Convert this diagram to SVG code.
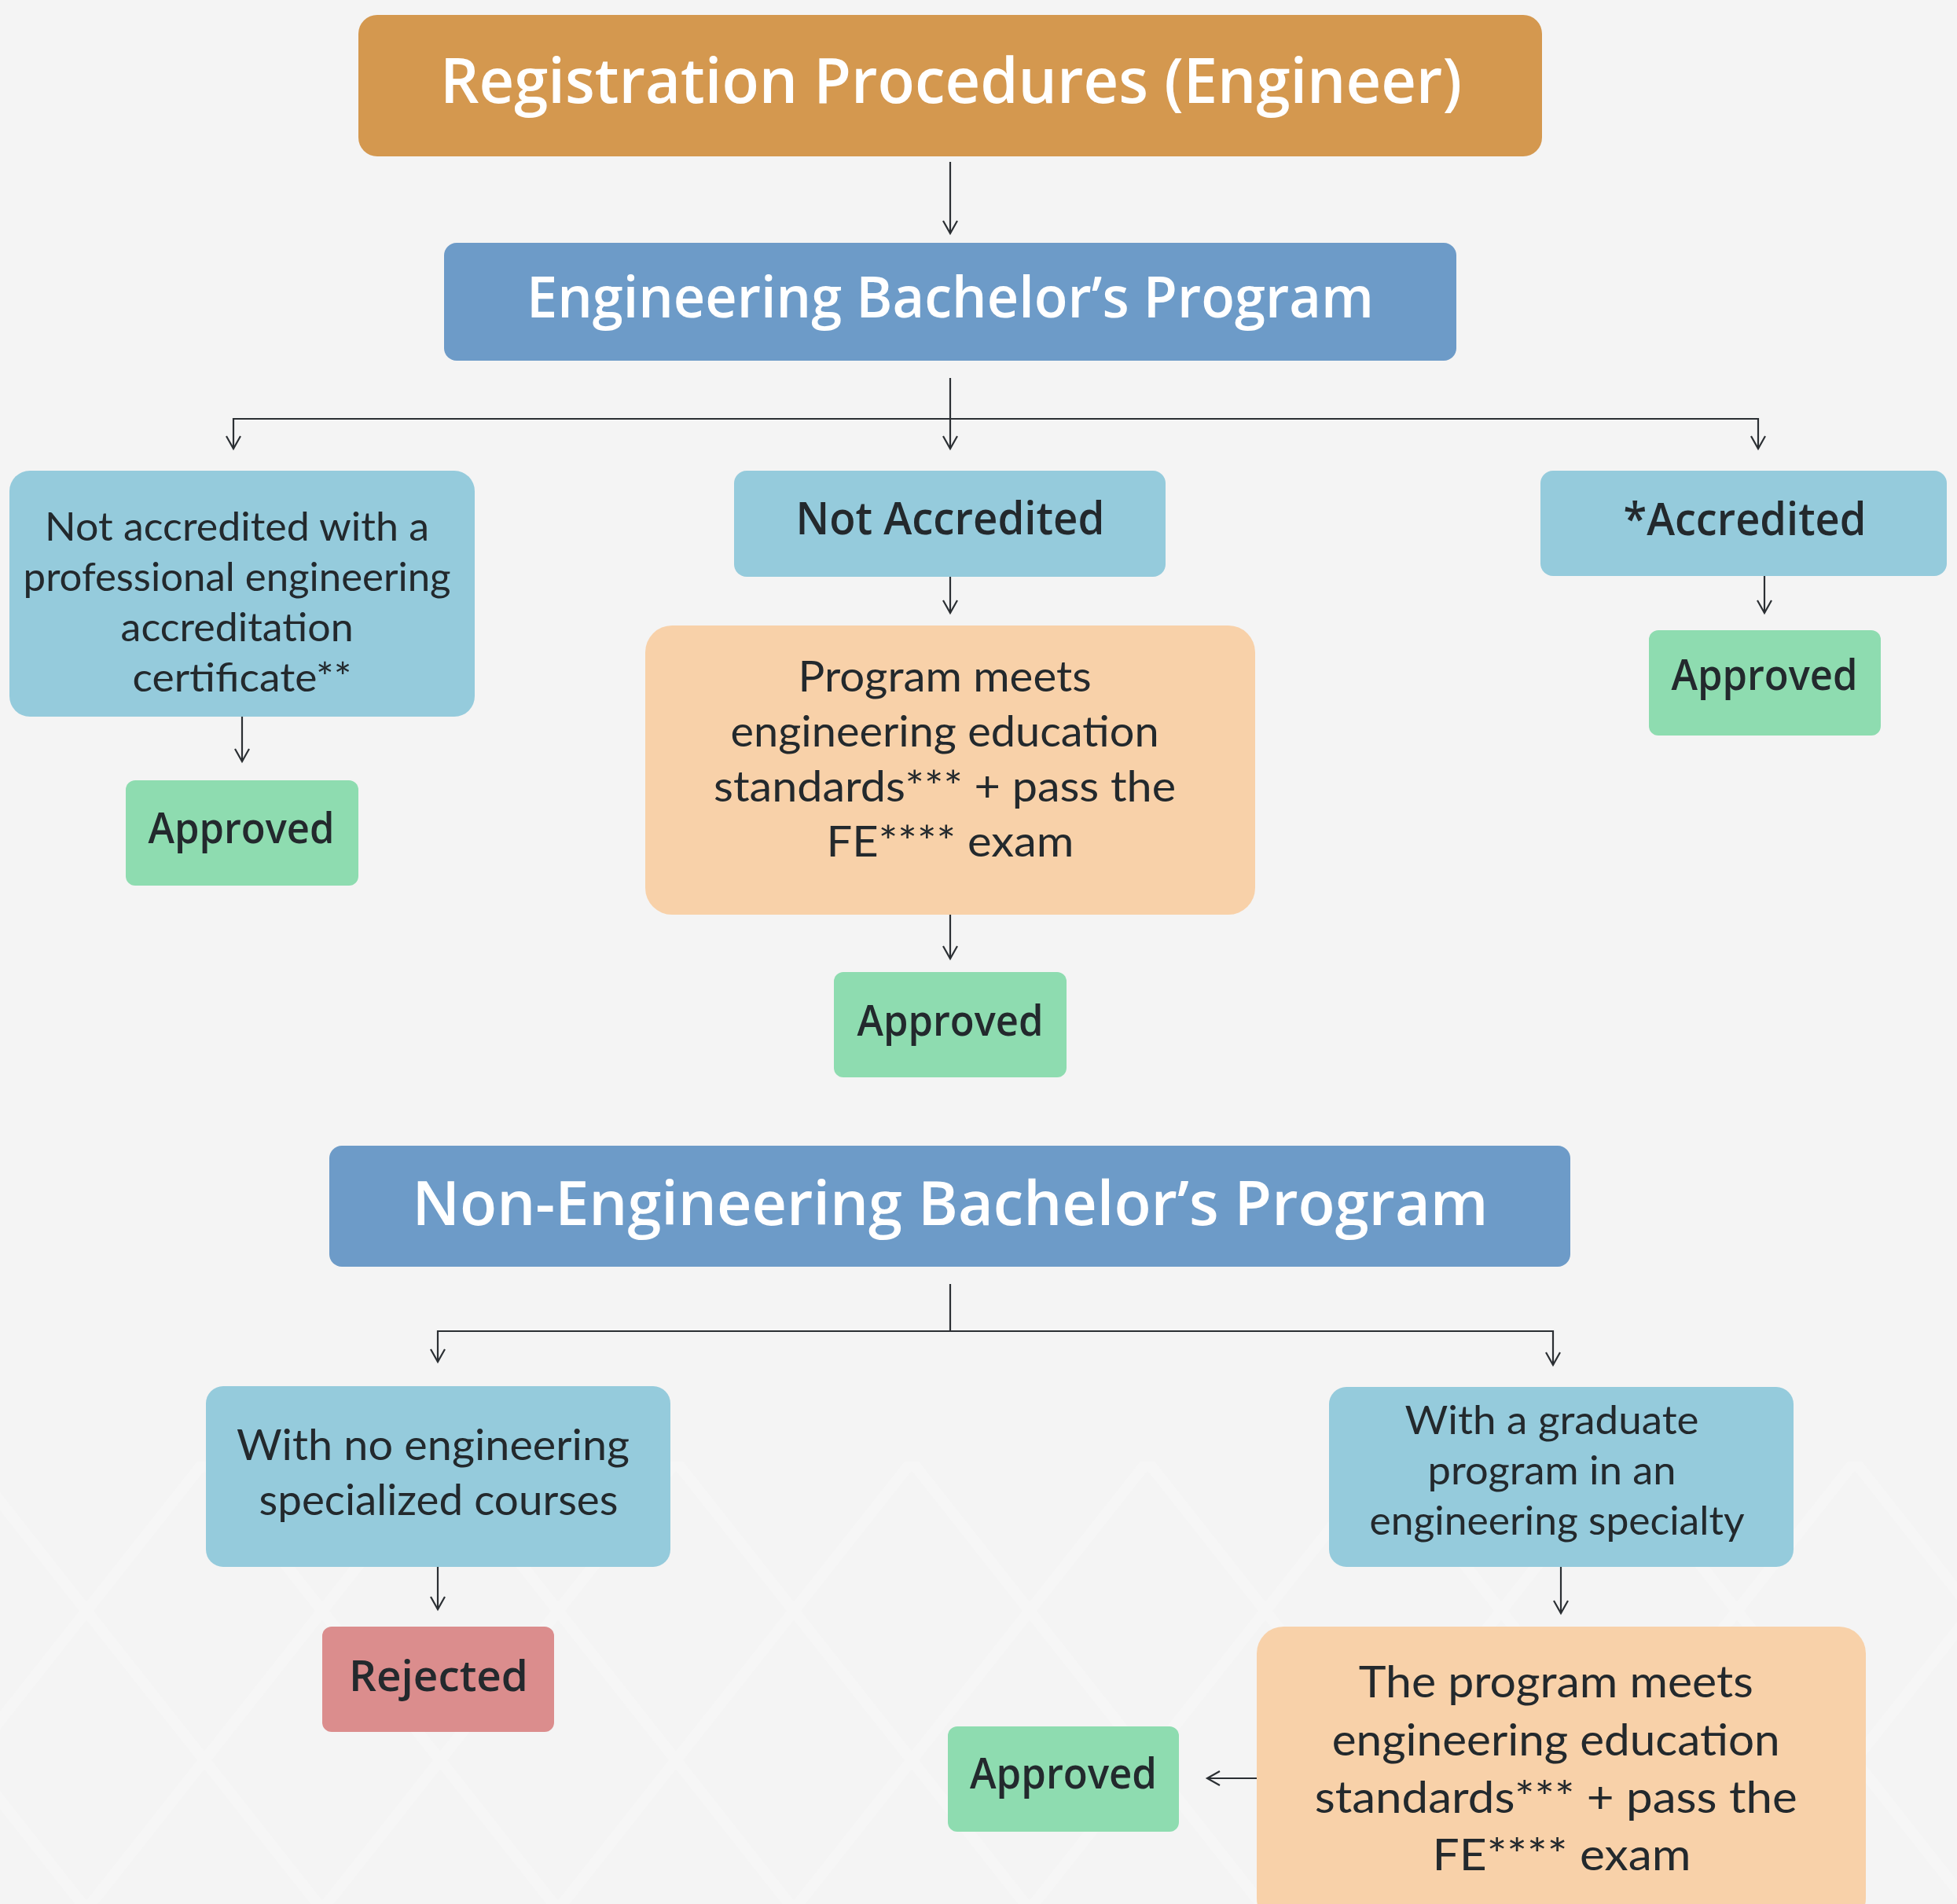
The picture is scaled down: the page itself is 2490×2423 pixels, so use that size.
<svg xmlns="http://www.w3.org/2000/svg" width="2490" height="2423" viewBox="0 0 2490 2423">
<defs>
<style>
.hdr{font-family:"Open Sans","Noto Sans",sans-serif;font-weight:600;fill:#ffffff;text-anchor:middle}
.lbl{font-family:"Open Sans","Noto Sans",sans-serif;font-weight:600;fill:#23292d;text-anchor:middle}
.body{font-family:Lato,"Noto Sans",sans-serif;font-weight:400;fill:#23292d;text-anchor:middle}
.conn{fill:none;stroke:#2b2f33;stroke-width:2.2}
.light{fill:#95cbdc}
.peach{fill:#f8d1a9}
.green{fill:#8edcb0}
.red{fill:#db8d8d}
.steel{fill:#6d9bc8}
</style>
<marker id="arr" markerUnits="userSpaceOnUse" markerWidth="40" markerHeight="40" refX="0" refY="0" orient="auto" overflow="visible" viewBox="-20 -20 40 40">
<path d="M-16,-9 L0,0 L-16,9" fill="none" stroke="#2b2f33" stroke-width="2.2"/>
</marker>
<pattern id="lat" width="300" height="380" patternUnits="userSpaceOnUse" x="-40" y="1860">
<path d="M0,0 L150,190 L0,380 M300,0 L150,190 L300,380" fill="none" stroke="#f9f9f9" stroke-width="14"/>
</pattern>
</defs>
<rect x="0" y="0" width="2490" height="2423" fill="#f4f4f4"/>
<rect x="0" y="1860" width="2490" height="563" fill="url(#lat)" opacity="0.45"/>

<g id="connectors">
<line class="conn" x1="1209" y1="206" x2="1209" y2="297" marker-end="url(#arr)"/>
<line class="conn" x1="1209" y1="481" x2="1209" y2="571" marker-end="url(#arr)"/>
<line class="conn" x1="297" y1="533" x2="2237" y2="533"/>
<line class="conn" x1="297" y1="532" x2="297" y2="571" marker-end="url(#arr)"/>
<line class="conn" x1="2237" y1="532" x2="2237" y2="571" marker-end="url(#arr)"/>
<line class="conn" x1="308" y1="912" x2="308" y2="969" marker-end="url(#arr)"/>
<line class="conn" x1="1209" y1="734" x2="1209" y2="780" marker-end="url(#arr)"/>
<line class="conn" x1="1209" y1="1164" x2="1209" y2="1220" marker-end="url(#arr)"/>
<line class="conn" x1="2245" y1="733" x2="2245" y2="780" marker-end="url(#arr)"/>
<line class="conn" x1="1209" y1="1634" x2="1209" y2="1694"/>
<line class="conn" x1="557" y1="1694" x2="1976" y2="1694" stroke-width="3"/>
<line class="conn" x1="557" y1="1693" x2="557" y2="1733" marker-end="url(#arr)"/>
<line class="conn" x1="1976" y1="1693" x2="1976" y2="1737" marker-end="url(#arr)"/>
<line class="conn" x1="557" y1="1994" x2="557" y2="2048" marker-end="url(#arr)"/>
<line class="conn" x1="1986" y1="1994" x2="1986" y2="2053" marker-end="url(#arr)"/>
<line class="conn" x1="1599" y1="2263" x2="1536" y2="2263" marker-end="url(#arr)"/>
</g>

<g id="title">
<rect x="456" y="19" width="1506" height="180" rx="24" fill="#d4984f"/>
<text class="hdr" x="1210" y="131" font-size="80" textLength="1300" lengthAdjust="spacingAndGlyphs">Registration Procedures (Engineer)</text>
</g>

<g id="eng-bachelor">
<rect class="steel" x="565" y="309" width="1288" height="150" rx="16"/>
<text class="hdr" x="1209" y="404" font-size="72" textLength="1078" lengthAdjust="spacingAndGlyphs">Engineering Bachelor’s Program</text>
</g>

<g id="not-accredited-cert">
<rect class="light" x="12" y="599" width="592" height="313" rx="26"/>
<text class="body" font-size="50">
<tspan x="308" y="688" textLength="489" lengthAdjust="spacingAndGlyphs">Not accredited with a</tspan>
<tspan x="308" y="752" textLength="544" lengthAdjust="spacingAndGlyphs">professional engineering</tspan>
<tspan x="308" y="816" textLength="296" lengthAdjust="spacingAndGlyphs">accreditation</tspan>
<tspan x="308" y="880" textLength="279" lengthAdjust="spacingAndGlyphs">certificate**</tspan>
</text>
</g>

<g id="approved-1">
<rect class="green" x="160" y="993" width="296" height="134" rx="12"/>
<text class="lbl" x="307" y="1073" font-size="54" textLength="237" lengthAdjust="spacingAndGlyphs">Approved</text>
</g>

<g id="not-accredited">
<rect class="light" x="934" y="599" width="549" height="135" rx="16"/>
<text class="lbl" x="1209" y="680" font-size="58" textLength="393" lengthAdjust="spacingAndGlyphs">Not Accredited</text>
</g>

<g id="meets-standards-1">
<rect class="peach" x="821" y="796" width="776" height="368" rx="34"/>
<text class="body" font-size="54">
<tspan x="1209" y="880" textLength="373" lengthAdjust="spacingAndGlyphs">Program meets</tspan>
<tspan x="1209" y="950" textLength="545" lengthAdjust="spacingAndGlyphs">engineering education</tspan>
<tspan x="1209" y="1020" textLength="588" lengthAdjust="spacingAndGlyphs">standards*** + pass the</tspan>
<tspan x="1209" y="1090" textLength="315" lengthAdjust="spacingAndGlyphs">FE**** exam</tspan>
</text>
</g>

<g id="approved-2">
<rect class="green" x="1061" y="1237" width="296" height="134" rx="12"/>
<text class="lbl" x="1209" y="1318" font-size="54" textLength="237" lengthAdjust="spacingAndGlyphs">Approved</text>
</g>

<g id="accredited">
<rect class="light" x="1960" y="599" width="517" height="134" rx="16"/>
<text class="lbl" x="2220" y="681" font-size="58" textLength="309" lengthAdjust="spacingAndGlyphs">*Accredited</text>
</g>

<g id="approved-3">
<rect class="green" x="2098" y="802" width="295" height="134" rx="12"/>
<text class="lbl" x="2245" y="878" font-size="54" textLength="237" lengthAdjust="spacingAndGlyphs">Approved</text>
</g>

<g id="non-eng-bachelor">
<rect class="steel" x="419" y="1458" width="1579" height="154" rx="16"/>
<text class="hdr" x="1209" y="1559" font-size="78" textLength="1369" lengthAdjust="spacingAndGlyphs">Non-Engineering Bachelor’s Program</text>
</g>

<g id="no-eng-courses">
<rect class="light" x="262" y="1764" width="591" height="230" rx="22"/>
<text class="body" font-size="54">
<tspan x="558" y="1858" textLength="500" lengthAdjust="spacingAndGlyphs">With no engineering</tspan>
<tspan x="558" y="1928" textLength="457" lengthAdjust="spacingAndGlyphs">specialized courses</tspan>
</text>
</g>

<g id="rejected">
<rect class="red" x="410" y="2070" width="295" height="134" rx="12"/>
<text class="lbl" x="558" y="2152" font-size="54" textLength="228" lengthAdjust="spacingAndGlyphs">Rejected</text>
</g>

<g id="graduate-program">
<rect class="light" x="1691" y="1765" width="591" height="229" rx="22"/>
<text class="body" font-size="50">
<tspan x="1981" y="1825" textLength="374" lengthAdjust="spacingAndGlyphs">With a graduate</tspan>
<tspan x="1981" y="1889" textLength="316" lengthAdjust="spacingAndGlyphs">program in an</tspan>
<tspan x="1981" y="1953" textLength="477" lengthAdjust="spacingAndGlyphs">engineering specialty</tspan>
</text>
</g>

<g id="meets-standards-2">
<rect class="peach" x="1599" y="2070" width="775" height="380" rx="34"/>
<text class="body" font-size="57">
<tspan x="1987" y="2160" textLength="502" lengthAdjust="spacingAndGlyphs">The program meets</tspan>
<tspan x="1987" y="2234" textLength="570" lengthAdjust="spacingAndGlyphs">engineering education</tspan>
<tspan x="1987" y="2307" textLength="614" lengthAdjust="spacingAndGlyphs">standards*** + pass the</tspan>
<tspan x="1987" y="2380" textLength="329" lengthAdjust="spacingAndGlyphs">FE**** exam</tspan>
</text>
</g>

<g id="approved-4">
<rect class="green" x="1206" y="2197" width="294" height="134" rx="12"/>
<text class="lbl" x="1353" y="2276" font-size="54" textLength="238" lengthAdjust="spacingAndGlyphs">Approved</text>
</g>
</svg>
